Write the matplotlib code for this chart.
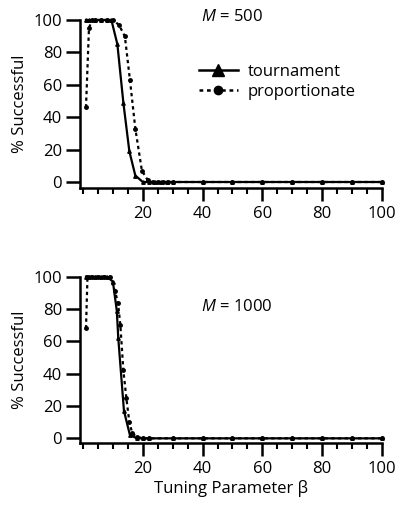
import matplotlib
matplotlib.use("Agg")
import matplotlib.pyplot as plt
from matplotlib.ticker import MultipleLocator, FixedLocator
from matplotlib.lines import Line2D

plt.rcParams['font.family'] = ['Open Sans', 'DejaVu Sans']
plt.rcParams['mathtext.fontset'] = 'custom'
plt.rcParams['mathtext.it'] = 'Open Sans:italic'
plt.rcParams['mathtext.rm'] = 'Open Sans'

# ---- data ----
# M = 500
tour500_beta = [1, 2, 4, 6, 8, 9.5, 11.5, 13.5, 15.5, 17.5, 20, 22, 24, 26, 28, 30, 40, 50, 60, 70, 80, 90, 100]
tour500_val  = [100, 100, 100, 100, 100, 100, 85, 49, 19, 4, 0, 0, 0, 0, 0, 0, 0, 0, 0, 0, 0, 0, 0]
prop500_beta = [1, 2, 3, 4, 6, 8, 10, 12, 14, 15.7, 17.5, 19.7, 21.7, 23.3, 25, 26.7, 28.3, 30, 40, 50, 60, 70, 80, 90, 100]
prop500_val  = [46, 95, 100, 100, 100, 100, 100, 97, 90, 63, 33, 7, 1, 0, 0, 0, 0, 0, 0, 0, 0, 0, 0, 0, 0]

# M = 1000
tour1000_beta = [1, 2, 4, 6, 8, 10, 11.3, 11.8, 13.7, 15.7, 18, 20, 22, 30, 40, 50, 60, 70, 80, 90, 100]
tour1000_val  = [100, 100, 100, 100, 100, 97, 79, 62, 17, 2, 0, 0, 0, 0, 0, 0, 0, 0, 0, 0, 0]
prop1000_beta = [1, 1.5, 3, 5, 7, 9, 10.7, 11.7, 12.5, 13.5, 14.5, 15.5, 16.5, 18, 20, 22, 30, 40, 50, 60, 70, 80, 90, 100]
prop1000_val  = [68, 100, 100, 100, 100, 100, 91, 84, 70, 42, 25, 10, 3, 1, 0, 0, 0, 0, 0, 0, 0, 0, 0, 0]

yticks = [0, 20, 40, 60, 80, 100]
xticks = [20, 40, 60, 80, 100]

W, H = 396, 513
fig = plt.figure(figsize=(W / 100, H / 100), dpi=100)
FS = 12

def make_ax(top_px, bottom_px, ymin):
    left_px, right_px = 80, 382
    ax = fig.add_axes([left_px / W, 1 - bottom_px / H, (right_px - left_px) / W, (bottom_px - top_px) / H])
    ax.set_xlim(-1, 100)
    ax.set_ylim(ymin, 100)
    for s in ['top', 'right']:
        ax.spines[s].set_visible(False)
    for s in ['left', 'bottom']:
        ax.spines[s].set_linewidth(1.8)
    ax.xaxis.set_major_locator(FixedLocator(xticks))
    ax.xaxis.set_minor_locator(MultipleLocator(5))
    ax.yaxis.set_major_locator(FixedLocator(yticks))
    ax.tick_params(axis='y', which='major', length=10, width=1.8, labelsize=FS, pad=3)
    ax.tick_params(axis='x', which='major', length=9, width=1.8, labelsize=FS, pad=4)
    ax.tick_params(axis='x', which='minor', length=4.5, width=1.5)
    ax.set_ylabel('% Successful', fontsize=FS, labelpad=4)
    return ax

def draw(ax, tb, tv, pb, pv):
    ax.plot(tb, tv, color='black', lw=1.6, ls='-', marker='^', ms=2.5, clip_on=False)
    ax.plot(pb, pv, color='black', lw=1.6, ls=(0, (1.5, 1.5)), marker='o', ms=2.5, clip_on=False)

ax1 = make_ax(20, 188, -3.7)
draw(ax1, tour500_beta, tour500_val, prop500_beta, prop500_val)
ax1.text(0.4, 1.02, r'$M$ = 500', transform=ax1.transAxes, fontsize=FS, va='center', ha='left')
lh1 = Line2D([], [], color='black', lw=1.8, marker='^', ms=8)
lh2 = Line2D([], [], color='black', lw=1.8, ls=(0, (1.5, 1.5)), marker='o', ms=6)
ax1.legend([lh1, lh2], ['tournament', 'proportionate'], loc='upper left', bbox_to_anchor=(0.395, 0.74),
           frameon=False, fontsize=FS, handlelength=2.3, handletextpad=0.6, labelspacing=0.25,
           borderaxespad=0, borderpad=0)

ax2 = make_ax(276.7, 442.7, -2.7)
draw(ax2, tour1000_beta, tour1000_val, prop1000_beta, prop1000_val)
ax2.text(0.4, 0.82, r'$M$ = 1000', transform=ax2.transAxes, fontsize=FS, va='center', ha='left')
ax2.set_xlabel('Tuning Parameter β', fontsize=FS, labelpad=2)

fig.savefig('out.png', dpi=100)
